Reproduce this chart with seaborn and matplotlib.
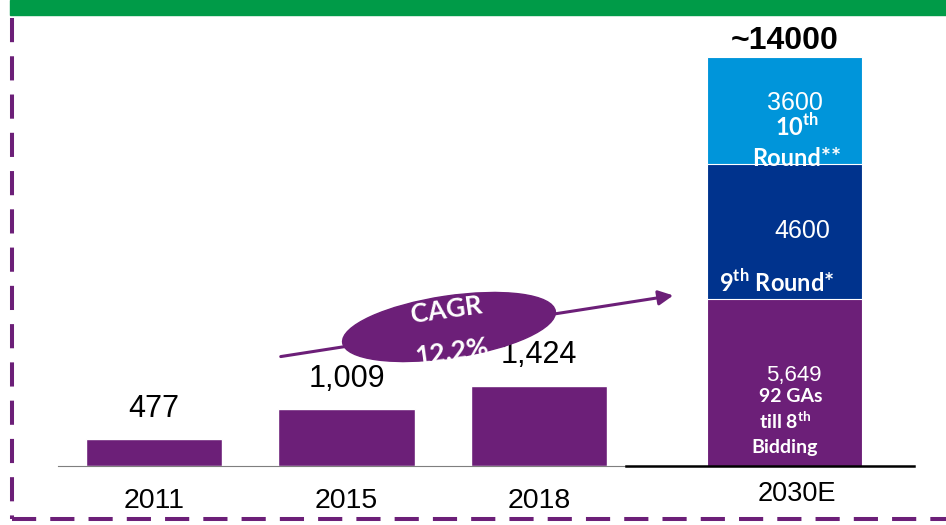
import matplotlib.pyplot as plt
import numpy as np
import pandas as pd
import seaborn as sns
from matplotlib.patches import Ellipse, Rectangle

# data
years = ['2011', '2015', '2018']
capacity = [477, 1009, 1424]
target_year = '2030E'
target_parts = [5649, 4600, 3600]
target_total_text = '~14000'
part_value_labels = ['5,649', '4600', '3600']
cagr_lines = ['CAGR', '12.2%']

purple = '#6C1F78'
navy = '#00338D'
light_blue = '#0095DA'
part_colors = [purple, navy, light_blue]
grey = '#7F7F7F'

sns.set_style('white')
plt.rcParams['font.family'] = ['Liberation Sans', 'DejaVu Sans']
plt.rcParams['text.color'] = 'black'
plt.rcParams['xtick.color'] = 'black'
plt.rcParams['mathtext.fontset'] = 'custom'
plt.rcParams['mathtext.rm'] = 'Lato'
plt.rcParams['mathtext.bf'] = 'Lato:bold'
bold_sans = ['Lato', 'DejaVu Sans']

W, H = 946, 525
fig = plt.figure(figsize=(W / 100, H / 100), dpi=100)

# left axes: historical capacity
ax = fig.add_axes([58 / W, 1 - 466 / H, (635 - 58) / W, 446 / H])
df = pd.DataFrame({'year': years, 'capacity': capacity})
sns.barplot(data=df, x='year', y='capacity', color=purple, saturation=1,
            width=0.71, ax=ax)
ax.set_xlim(-0.5, 2.5)
ax.set_ylim(0, 7894)
ax.bar_label(ax.containers[0], labels=[f'{v:,}' for v in capacity],
             padding=11, fontsize=22, color='black')
sns.despine(ax=ax, left=True)
ax.spines['bottom'].set_color(grey)
ax.set_yticks([])
ax.set_xlabel('')
ax.set_ylabel('')
ax.set_xticks(np.arange(-0.5, 3), minor=True)
ax.tick_params(axis='x', which='major', length=0, pad=16, labelsize=20.5)
ax.tick_params(axis='x', which='minor', length=7, color=grey, direction='out')

# right axes: 2030 target, stacked
ax2 = fig.add_axes([626 / W, 1 - 466 / H, 288 / W, 446 / H])
tops = np.cumsum(target_parts)
for top, col in zip(tops[::-1], part_colors[::-1]):
    sns.barplot(x=[target_year], y=[top], color=col, saturation=1, width=0.538,
                edgecolor='white', linewidth=0.8, ax=ax2)
ax2.set_xlim(-0.55, 0.45)
ax2.set_ylim(0, 15119)
sns.despine(ax=ax2, left=True)
ax2.spines['bottom'].set_color('black')
ax2.spines['bottom'].set_linewidth(1.8)
ax2.set_yticks([])
ax2.set_xlabel('')
ax2.set_ylabel('')
ax2.set_xticks([0.045], labels=[target_year])
ax2.set_xticks([0.45], minor=True)
ax2.tick_params(axis='x', which='major', length=0, pad=11, labelsize=19.5)
ax2.tick_params(axis='x', which='minor', length=10, width=1.8, color='black')

ax2.annotate(target_total_text, (0, tops[-1]), xytext=(0, 1), textcoords='offset points',
             ha='center', va='bottom', fontsize=23, fontweight='bold')

# labels inside the stack (offsets in px converted to points)
def seg_text(txt, y, dx, dy, bold=False, size=13):
    ax2.annotate(txt, (0, y), xytext=(dx * 0.72, dy * 0.72), textcoords='offset points',
                 ha='center', va='center', color='white', fontsize=size,
                 fontweight='bold' if bold else 'normal',
                 family=bold_sans if bold else ['Liberation Sans'])

seg_text(part_value_labels[2], tops[2], 11, -46, size=18)
seg_text(r'10$^{\mathbf{th}}$', tops[2], 13, -69, bold=True, size=17)
seg_text('Round**', tops[2], 12, -101, bold=True, size=17)
seg_text(part_value_labels[1], tops[0], 18, 68, size=18)
seg_text(r'9$^{\mathbf{th}}$ Round*', tops[0], -8, 17, bold=True, size=17)
seg_text(part_value_labels[0], 0, 9, 91, size=16)
seg_text('92 GAs', 0, 6, 69, bold=True, size=14)
seg_text(r'till 8$^{\mathbf{th}}$', 0, 1, 45, bold=True, size=14)
seg_text('Bidding', 0, 0, 18, bold=True, size=14)

# decorations in pixel space
ov = fig.add_axes([0, 0, 1, 1], zorder=5)
ov.set_xlim(0, W)
ov.set_ylim(H, 0)
ov.axis('off')
ov.add_patch(Rectangle((10, 0), W - 10, 15, color='#009B48'))
ov.plot([12, 12], [18, 519], color=purple, lw=2.9, ls=(0, (6, 3.5)))
ov.plot([12, W], [519, 519], color=purple, lw=2.9, ls=(0, (6, 3.5)))
ov.annotate('', xy=(676, 295), xytext=(278, 357),
            arrowprops=dict(arrowstyle='-|>', color=purple, lw=2.2, mutation_scale=22))
ell = Ellipse((449, 327), 215, 62, angle=-8.5, color=purple, zorder=3)
ov.add_patch(ell)
for txt, (x, y) in zip(cagr_lines, [(446, 310), (452, 352)]):
    t = ov.text(x, y, txt, rotation=8, ha='center', va='center', color='white',
                fontsize=19, fontweight='bold', family=bold_sans, zorder=4)
    t.set_clip_path(ell)

plt.savefig('out.png', dpi=100)
